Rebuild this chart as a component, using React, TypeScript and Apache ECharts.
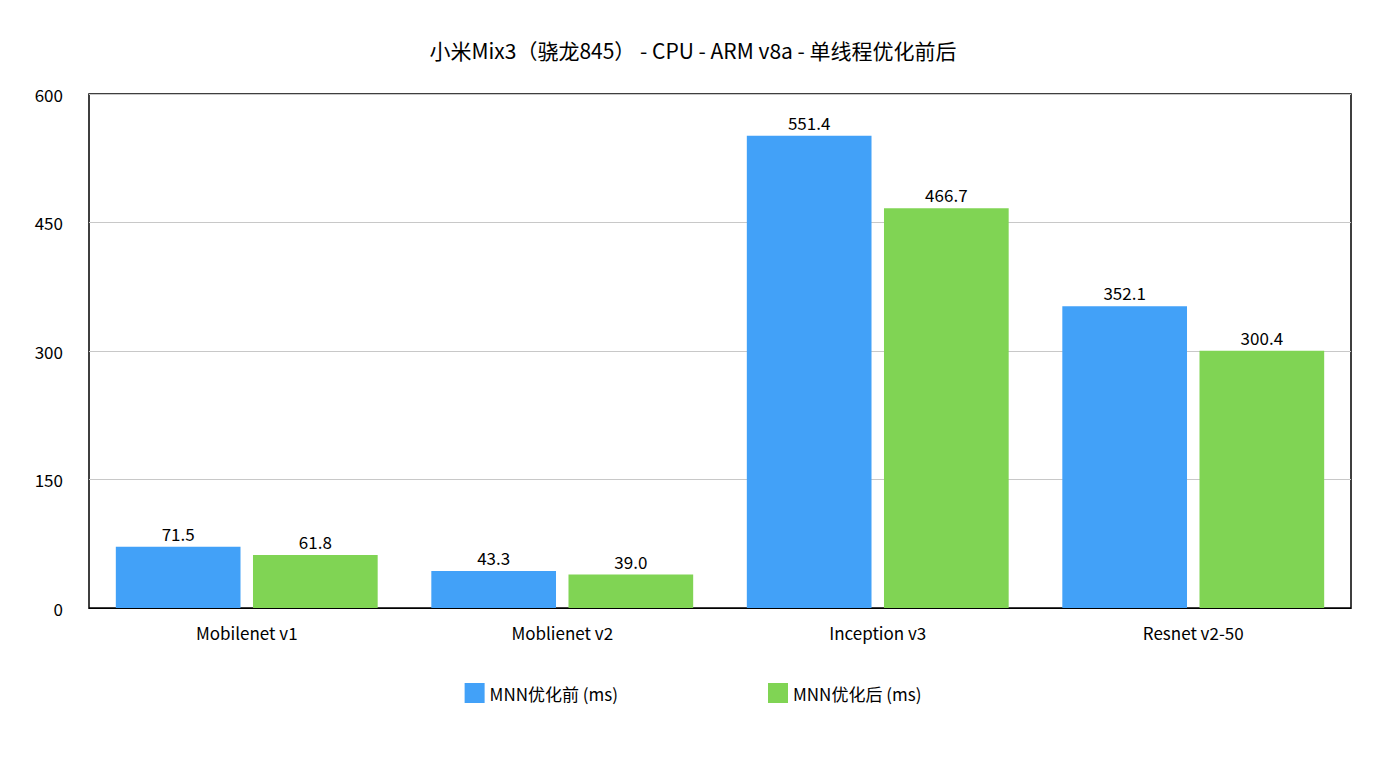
import { useRef, useEffect } from 'react'
import * as echarts from 'echarts'

const categories = ['Mobilenet v1', 'Moblienet v2', 'Inception v3', 'Resnet v2-50']
const before = [71.5, 43.3, 551.4, 352.1]
const after = [61.8, 39.0, 466.7, 300.4]
const seriesNames = ['MNN优化前 (ms)', 'MNN优化后 (ms)']

const FONT = '"Noto Sans CJK SC", "Noto Sans", sans-serif'

export default function App() {
  const chartRef = useRef<HTMLDivElement>(null)

  useEffect(() => {
    if (!chartRef.current) return
    const chart = echarts.init(chartRef.current, undefined, { renderer: 'svg' })

    const label = {
      show: true,
      position: 'top' as const,
      color: '#000',
      fontSize: 17,
      fontFamily: FONT,
      formatter: (p: any) => Number(p.value).toFixed(1),
    }

    chart.setOption({
      animation: false,
      backgroundColor: '#fff',
      textStyle: { fontFamily: FONT },
      title: {
        text: '小米Mix3（骁龙845） - CPU - ARM v8a - 单线程优化前后',
        left: 'center',
        top: 34,
        textStyle: { fontSize: 21, fontWeight: 'normal', color: '#000', fontFamily: FONT },
      },
      legend: {
        bottom: 58,
        left: 'center',
        itemWidth: 20,
        itemHeight: 20,
        itemGap: 150,
        icon: 'rect',
        textStyle: { fontSize: 17, color: '#000', fontFamily: FONT },
        data: seriesNames,
      },
      grid: {
        left: 89,
        right: 35,
        top: 94,
        bottom: 158,
        show: true,
        borderColor: '#000',
        borderWidth: 1.5,
      },
      xAxis: {
        type: 'category',
        data: categories,
        axisLine: { lineStyle: { color: '#000' } },
        axisTick: { show: false },
        axisLabel: { color: '#000', fontSize: 17, margin: 16, fontFamily: FONT },
      },
      yAxis: {
        type: 'value',
        min: 0,
        max: 600,
        interval: 150,
        axisLine: { show: false },
        axisTick: { show: false },
        splitLine: { lineStyle: { color: '#c8c8c8' } },
        axisLabel: { color: '#000', fontSize: 17, margin: 26, fontFamily: FONT },
      },
      series: [
        {
          name: seriesNames[0],
          type: 'bar',
          data: before,
          barCategoryGap: '17%',
          barGap: '10%',
          itemStyle: { color: '#42A1F8' },
          label,
        },
        {
          name: seriesNames[1],
          type: 'bar',
          data: after,
          itemStyle: { color: '#80D454' },
          label,
        },
      ],
    })

    return () => chart.dispose()
  }, [])

  return (
    <div
      ref={chartRef}
      style={{ position: 'absolute', left: 0, top: 0, width: 1386, height: 766 }}
    />
  )
}
